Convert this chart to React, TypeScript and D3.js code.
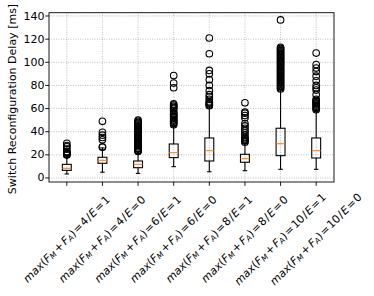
import React, { useRef, useEffect } from 'react';
import * as d3 from 'd3';

const W = 374;
const H = 296;

// max(F_M + F_A) value and E flag per box
const fmax = ['4', '4', '6', '6', '8', '8', '10', '10'];
const eflag = ['1', '0', '1', '0', '1', '0', '1', '0'];

const q1 = [6.6, 12.7, 8.9, 17.6, 14.7, 13.6, 19.3, 17.3];
const med = [8.4, 15.3, 11.8, 21.9, 23.6, 16.7, 29.6, 23.6];
const q3 = [11.8, 17.9, 14.7, 29.4, 34.6, 20.5, 43, 34.6];
const whiskLo = [3.5, 5, 4, 9.8, 5.4, 6.3, 7.5, 7.5];
const whiskHi = [19.3, 26, 22.7, 45, 62, 30, 76.6, 58.5];

const fliers = [
  [19.8, 20.3, 20.8, 21.3, 21.8, 22.5, 23, 25, 27, 28, 30],
  [26.5, 27, 33, 35, 37, 39.5, 49],
  [23, 23.5, 24, 25, 26, 27, 28, 29, 30, 31, 32, 33, 34, 35, 36, 37, 38, 39, 40, 41, 42, 43, 44, 45, 46, 47, 48, 49, 50],
  [46, 47, 48, 49, 50, 51, 52, 53, 54, 55, 56, 58, 60, 61, 62, 63, 64, 78, 82, 88.5],
  [62.5, 63, 64, 65, 66, 68, 70, 72, 75.5, 80, 85, 90, 93, 107.4, 121],
  [31, 32, 33, 34, 35, 37, 39, 41, 43, 45, 47, 52, 54, 56, 57, 65],
  [77, 78, 79, 80, 81, 82, 83, 84, 85, 86, 87, 88, 89, 90, 91, 92, 93, 94, 95, 96, 97, 98, 99, 100, 101, 102, 103, 104, 105, 106, 107, 108, 109, 110, 111, 112, 113, 136.6],
  [59, 60, 61, 62, 63, 64, 65, 66, 67, 68, 72, 76, 78, 80, 84, 88, 92, 95, 98, 108],
];

const yTicks = [0, 20, 40, 60, 80, 100, 120, 140];

const margin = { left: 49, right: 334, top: 12.7, bottom: 182 };

export default function App() {
  const svgRef = useRef<SVGSVGElement>(null);

  useEffect(() => {
    if (!svgRef.current) return;
    const svg = d3.select(svgRef.current);
    svg.selectAll('*').remove();

    const n = med.length;
    const x = d3.scaleLinear().domain([0.5, n + 0.5]).range([margin.left, margin.right]);
    const y = d3.scaleLinear().domain([-3.46, 142.86]).range([margin.bottom, margin.top]);
    const bw = x(1.25) - x(1);
    const cw = bw / 2;
    const lw = 1.1;

    const grid = svg.append('g');
    yTicks.forEach((t) => {
      grid.append('line')
        .attr('x1', margin.left).attr('x2', margin.right)
        .attr('y1', y(t)).attr('y2', y(t))
        .style('stroke', '#b0b0b0').style('stroke-width', 0.9)
        .style('stroke-dasharray', '0.9,1.5');
    });
    d3.range(1, n + 1).forEach((i) => {
      grid.append('line')
        .attr('x1', x(i)).attr('x2', x(i))
        .attr('y1', margin.top).attr('y2', margin.bottom)
        .style('stroke', '#b0b0b0').style('stroke-width', 0.9)
        .style('stroke-dasharray', '0.9,1.5');
    });

    const boxes = svg.append('g');
    for (let i = 0; i < n; i++) {
      const cx = x(i + 1);
      const line = (x1: number, y1: number, x2: number, y2: number, color = 'black') =>
        boxes.append('line')
          .attr('x1', x1).attr('y1', y1).attr('x2', x2).attr('y2', y2)
          .style('stroke', color).style('stroke-width', lw);
      // whiskers + caps
      line(cx, y(q1[i]), cx, y(whiskLo[i]));
      line(cx, y(q3[i]), cx, y(whiskHi[i]));
      line(cx - cw / 2, y(whiskLo[i]), cx + cw / 2, y(whiskLo[i]));
      line(cx - cw / 2, y(whiskHi[i]), cx + cw / 2, y(whiskHi[i]));
      boxes.append('rect')
        .attr('x', cx - bw / 2).attr('y', y(q3[i]))
        .attr('width', bw).attr('height', y(q1[i]) - y(q3[i]))
        .style('fill', 'none').style('stroke', 'black').style('stroke-width', lw);
      line(cx - bw / 2, y(med[i]), cx + bw / 2, y(med[i]), '#ff7f0e');
      fliers[i].forEach((v) => {
        boxes.append('circle')
          .attr('cx', cx).attr('cy', y(v)).attr('r', 3.3)
          .style('fill', 'none').style('stroke', 'black').style('stroke-width', lw);
      });
    }

    // spines
    svg.append('rect')
      .attr('x', margin.left).attr('y', margin.top)
      .attr('width', margin.right - margin.left).attr('height', margin.bottom - margin.top)
      .style('fill', 'none').style('stroke', 'black').style('stroke-width', 0.9);

    const font = 'DejaVu Sans';
    yTicks.forEach((t) => {
      svg.append('line')
        .attr('x1', margin.left - 3.8).attr('x2', margin.left)
        .attr('y1', y(t)).attr('y2', y(t))
        .style('stroke', 'black').style('stroke-width', 0.9);
      svg.append('text')
        .attr('x', 44.5).attr('y', y(t))
        .attr('text-anchor', 'end').attr('dominant-baseline', 'central')
        .style('font-family', font).style('font-size', '11px')
        .text(String(t));
    });

    d3.range(1, n + 1).forEach((i) => {
      svg.append('line')
        .attr('x1', x(i)).attr('x2', x(i))
        .attr('y1', margin.bottom).attr('y2', margin.bottom + 3.8)
        .style('stroke', 'black').style('stroke-width', 0.9);
      const t = svg.append('text')
        .attr('transform', `translate(${x(i) - 0.5},${margin.bottom + 57}) rotate(-45)`)
        .attr('text-anchor', 'middle').attr('dominant-baseline', 'central')
        .style('font-family', font).style('font-size', '11px');
      const it = (s: string, dx = 0) => t.append('tspan').attr('dx', dx).style('font-style', 'italic').text(s);
      const nm = (s: string, dx = 0) => t.append('tspan').attr('dx', dx).text(s);
      const sub = (s: string) => t.append('tspan').style('font-style', 'italic')
        .style('font-size', '7.7px').attr('baseline-shift', '-2.2').text(s);
      it('max');
      nm('(');
      it('F');
      sub('M');
      nm('+', 1.5);
      it('F', 1.5);
      sub('A');
      nm(')');
      nm('=', 0.8);
      nm(fmax[i - 1], 0.8);
      nm('/', 0.8);
      it('E', 0.8);
      nm('=', 0.8);
      nm(eflag[i - 1], 0.8);
    });

    svg.append('text')
      .attr('transform', `translate(12.3,99) rotate(-90)`)
      .attr('text-anchor', 'middle').attr('dominant-baseline', 'central')
      .style('font-family', font).style('font-size', '11px')
      .text('Switch Reconfiguration Delay [ms]');
  }, []);

  return (
    <svg
      ref={svgRef}
      width={W}
      height={H}
      style={{ position: 'absolute', left: 0, top: 0, background: 'white' }}
    />
  );
}
